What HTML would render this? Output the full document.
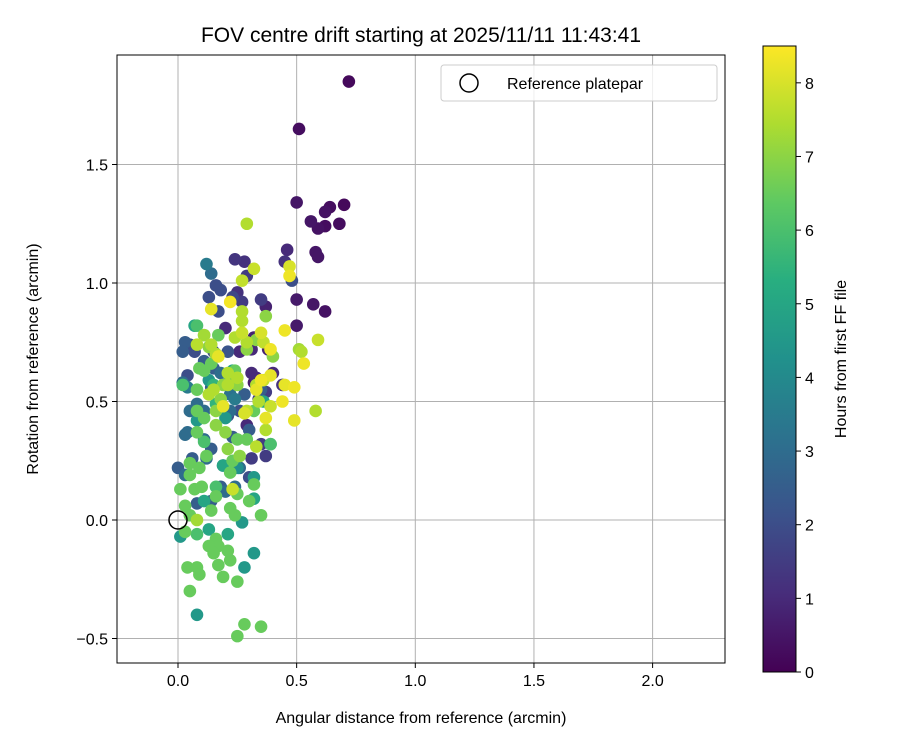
<!DOCTYPE html>
<html><head><meta charset="utf-8"><style>
html,body{margin:0;padding:0;background:#fff;}
svg text{font-family:"Liberation Sans","DejaVu Sans",sans-serif;fill:#000;}
</style></head><body>
<svg id="chart" width="900" height="750" xmlns="http://www.w3.org/2000/svg">
<defs>
<linearGradient id="vir" x1="0" y1="1" x2="0" y2="0">
<stop offset="0" stop-color="#440154"/><stop offset="0.125" stop-color="#472d7b"/><stop offset="0.25" stop-color="#3b528b"/><stop offset="0.375" stop-color="#2c728e"/><stop offset="0.5" stop-color="#21918c"/><stop offset="0.625" stop-color="#28ae80"/><stop offset="0.75" stop-color="#5ec962"/><stop offset="0.875" stop-color="#addc30"/><stop offset="1" stop-color="#fde725"/>
</linearGradient>
<clipPath id="clip"><rect x="117" y="55" width="608" height="608"/></clipPath>
</defs>
<text x="421" y="42" font-size="21" text-anchor="middle">FOV centre drift starting at 2025/11/11 11:43:41</text>
<g id="grid"></g>
<g id="pts" clip-path="url(#clip)"></g>
<circle cx="178" cy="520" r="9" fill="none" stroke="#000" stroke-width="1.5"/>
<rect x="117" y="55" width="608" height="608" fill="none" stroke="#000" stroke-width="1"/>
<g id="ticks"></g>
<text x="421" y="723" font-size="16" text-anchor="middle">Angular distance from reference (arcmin)</text>
<text transform="translate(38,359) rotate(-90)" font-size="16" text-anchor="middle">Rotation from reference (arcmin)</text>
<g>
<rect x="441" y="65" width="276" height="36" rx="3" fill="#fff" fill-opacity="0.8" stroke="#ccc"/>
<circle cx="469" cy="83" r="9" fill="none" stroke="#000" stroke-width="1.5"/>
<text x="507" y="89" font-size="16">Reference platepar</text>
</g>
<rect x="763" y="46" width="33" height="626" fill="url(#vir)" stroke="#000" stroke-width="1"/>
<g id="cbticks"></g>
<text transform="translate(846,359) rotate(-90)" font-size="16" text-anchor="middle">Hours from first FF file</text>
</svg>
<script>
const xTicks=[0.0,0.5,1.0,1.5,2.0];
const yTicks=[-0.5,0.0,0.5,1.0,1.5];
const cbTicks=[0,1,2,3,4,5,6,7,8];
const xs=[0.72,0.51,0.70,0.64,0.62,0.56,0.59,0.62,0.68,0.50,0.58,0.59,0.46,0.45,0.57,0.62,0.50,0.50,0.37,0.35,0.27,0.24,0.28,0.29,0.25,0.23,0.26,0.32,0.38,0.20,0.17,0.18,0.16,0.13,0.14,0.12,0.34,0.31,0.48,0.33,0.31,0.29,0.37,0.40,0.44,0.31,0.32,0.37,0.30,0.21,0.23,0.35,
0.03,0.02,0.05,0.07,0.04,0.02,0.04,0.05,0.08,0.03,0.04,0.00,0.06,0.03,0.11,0.15,0.15,0.14,0.11,0.14,0.19,0.18,0.14,0.08,0.12,0.11,0.22,0.26,0.30,0.24,0.28,0.35,0.20,0.24,0.26,0.22,0.18,0.21,
0.07,0.13,0.23,0.16,0.20,0.36,0.32,0.39,0.01,0.32,0.32,0.28,0.27,0.08,0.15,0.11,0.19,0.08,0.13,0.21,0.25,
0.02,0.01,0.08,0.11,0.09,0.14,0.17,0.13,0.11,0.08,0.08,0.11,0.08,0.11,0.12,0.05,0.09,0.05,0.07,0.10,0.16,0.16,0.14,0.03,0.05,0.03,0.08,0.16,0.17,0.13,0.21,0.15,0.22,0.04,0.08,0.09,0.17,0.19,0.25,0.05,0.28,0.35,0.25,0.35,0.24,0.22,0.30,0.32,0.25,0.22,0.23,0.26,0.21,0.25,0.29,0.20,0.16,0.16,0.32,0.39,0.40,0.24,0.22,0.19,0.29,0.33,0.37,0.18,0.25,
0.29,0.32,0.27,0.27,0.27,0.27,0.24,0.29,0.36,0.11,0.14,0.08,0.16,0.21,0.13,0.21,0.33,0.29,0.39,0.34,0.51,0.52,0.59,0.58,0.36,0.37,0.33,0.23,0.08,0.15,0.25,
0.14,0.22,0.17,0.47,0.47,0.45,0.35,0.39,0.35,0.39,0.45,0.49,0.53,0.44,0.49,0.37,0.19,0.28,0.33];
const ys=[1.85,1.65,1.33,1.32,1.30,1.26,1.23,1.24,1.25,1.34,1.13,1.11,1.14,1.09,0.91,0.88,0.93,0.82,0.90,0.93,0.92,1.10,1.09,1.03,0.96,0.94,0.71,0.77,0.72,0.81,0.88,0.97,0.99,0.94,1.04,1.08,0.51,0.62,1.01,0.60,0.72,0.40,0.54,0.62,0.57,0.26,0.58,0.27,0.18,0.44,0.35,0.32,
0.75,0.71,0.74,0.71,0.61,0.58,0.56,0.46,0.49,0.36,0.37,0.22,0.26,0.19,0.67,0.71,0.64,0.56,0.46,0.30,0.23,0.14,0.08,0.07,0.26,0.34,0.46,0.46,0.38,0.51,0.53,0.55,0.12,0.14,0.22,0.53,0.62,0.71,
0.82,0.59,0.63,0.49,0.43,0.50,0.18,0.32,-0.07,0.09,-0.14,-0.20,-0.01,-0.40,0.57,0.08,0.23,0.42,-0.04,-0.06,0.22,
0.57,0.13,0.82,0.78,0.64,0.66,0.78,0.73,0.63,0.55,0.46,0.43,0.37,0.33,0.27,0.24,0.22,0.19,0.13,0.14,0.14,0.10,0.04,0.06,0.02,-0.05,-0.06,-0.08,-0.11,-0.11,-0.13,-0.14,-0.17,-0.20,-0.20,-0.23,-0.19,-0.24,-0.26,-0.30,-0.44,-0.45,-0.49,0.02,0.02,0.05,0.08,0.15,0.11,0.20,0.25,0.27,0.30,0.34,0.34,0.37,0.40,0.46,0.46,0.32,0.69,0.63,0.60,0.57,0.72,0.76,0.86,0.51,0.57,
1.25,1.06,1.01,0.88,0.84,0.79,0.77,0.75,0.75,0.78,0.74,0.74,0.70,0.62,0.53,0.57,0.57,0.46,0.48,0.50,0.72,0.71,0.76,0.46,0.59,0.38,0.31,0.13,0.00,0.55,0.60,
0.89,0.92,0.69,1.03,1.07,0.80,0.79,0.72,0.59,0.61,0.57,0.56,0.66,0.50,0.42,0.43,0.48,0.45,0.55];
const hours=[0.2,0.3,0.2,0.3,0.4,0.5,0.4,0.3,0.3,0.5,0.5,0.5,1.0,1.2,0.5,0.4,0.6,0.6,0.8,1.5,1.5,1.3,1.2,1.5,1.2,1.8,1.0,0.8,0.8,1.0,2.0,2.0,2.0,2.0,3.0,3.5,1.5,1.0,2.0,1.0,1.0,1.0,1.5,1.0,1.2,1.5,0.6,1.5,2.0,2.0,2.5,1.5,
2.5,2.5,2.0,2.0,2.0,3.0,3.5,3.0,3.0,3.0,3.0,2.5,2.5,3.0,2.5,2.0,2.5,2.5,3.0,2.5,2.5,2.5,2.5,2.5,3.0,3.0,3.0,2.0,2.5,3.5,2.5,2.5,3.0,3.0,3.0,3.2,3.0,2.2,
5.0,4.5,5.0,5.5,4.5,5.0,4.5,5.5,4.5,5.0,4.5,4.5,4.5,4.5,5.5,5.0,5.0,4.5,5.0,5.0,4.2,
6.0,6.5,6.0,6.5,6.5,6.5,6.5,7.0,6.5,6.5,6.5,6.5,6.5,6.0,6.5,6.5,6.5,6.5,6.5,6.5,6.0,6.5,6.5,6.5,6.5,6.5,6.0,6.5,6.5,6.5,6.5,6.5,6.5,6.5,6.5,6.5,6.5,6.5,6.5,6.5,6.5,6.5,6.5,6.5,6.5,6.5,6.5,6.5,6.5,6.5,6.5,7.0,7.0,6.5,6.5,7.0,7.0,7.0,6.5,6.0,7.0,6.5,6.0,7.0,7.0,7.0,7.0,7.0,7.0,
7.5,7.8,7.7,7.5,7.5,7.8,7.5,7.5,7.7,7.3,7.5,7.6,7.5,7.5,7.5,7.5,7.5,7.6,7.8,7.5,7.3,7.5,7.8,7.5,7.8,7.5,7.6,7.8,7.3,7.5,7.5,
8.2,8.4,8.2,8.3,8.0,8.3,8.0,8.3,8.3,8.2,8.2,8.3,8.3,8.3,8.2,8.2,8.2,8.0,8.2];

const X=v=>178+v*237.3, Y=v=>520-v*237, CB=v=>672-v*(626/8.5);
const stops=[[0x44,0x01,0x54],[0x47,0x2d,0x7b],[0x3b,0x52,0x8b],[0x2c,0x72,0x8e],[0x21,0x91,0x8c],[0x28,0xae,0x80],[0x5e,0xc9,0x62],[0xad,0xdc,0x30],[0xfd,0xe7,0x25]];
function vir(h){let t=Math.max(0,Math.min(1,h/8.5))*8;let i=Math.min(7,Math.floor(t));let f=t-i;const a=stops[i],b=stops[i+1];
return 'rgb('+a.map((c,k)=>Math.round(c+(b[k]-c)*f)).join(',')+')';}
const NS='http://www.w3.org/2000/svg';
function mk(tag,attrs,parent){const e=document.createElementNS(NS,tag);for(const k in attrs)e.setAttribute(k,attrs[k]);parent.appendChild(e);return e;}
const grid=document.getElementById('grid'),ticks=document.getElementById('ticks');
xTicks.forEach(v=>{
  const g=mk('line',{x1:X(v),x2:X(v),y1:55,y2:663,stroke:'#b0b0b0','stroke-width':1},grid);
  
  
  mk('line',{x1:X(v),x2:X(v),y1:663,y2:668,stroke:'#000'},ticks);
  const t=mk('text',{x:X(v),y:686,'font-size':16,'text-anchor':'middle'},ticks);
  t.textContent=v.toFixed(1);
  
  
});
yTicks.forEach(v=>{
  const g=mk('line',{x1:117,x2:725,y1:Y(v),y2:Y(v),stroke:'#b0b0b0','stroke-width':1},grid);
  
  
  mk('line',{x1:112,x2:117,y1:Y(v),y2:Y(v),stroke:'#000'},ticks);
  const t=mk('text',{x:108,y:Y(v)+6,'font-size':16,'text-anchor':'end'},ticks);
  t.textContent=v<0?'\u2212'+Math.abs(v).toFixed(1):v.toFixed(1);
  
  
});
const cbt=document.getElementById('cbticks');
cbTicks.forEach(v=>{
  mk('line',{x1:796,x2:801,y1:CB(v),y2:CB(v),stroke:'#000'},cbt);
  const t=mk('text',{x:805,y:CB(v)+6,'font-size':16},cbt);
  t.textContent=v;
  
  
});
const pts=document.getElementById('pts');
const idx=hours.map((h,i)=>i).sort((a,b)=>hours[a]-hours[b]);
idx.forEach(i=>{
  const c=mk('circle',{cx:X(xs[i]),cy:Y(ys[i]),r:6.3,fill:vir(hours[i])},pts);
  
  
});
</script>
</body></html>
